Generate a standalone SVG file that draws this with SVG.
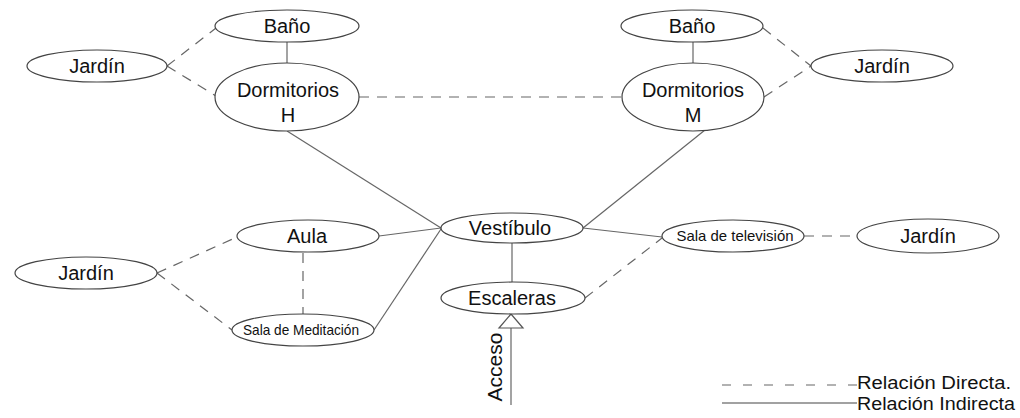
<svg xmlns="http://www.w3.org/2000/svg" width="1020" height="418" viewBox="0 0 1020 418">
<style>
.n ellipse{fill:#fff;stroke:#444;stroke-width:1.2}
.n text{font-family:"Liberation Sans",Arial,sans-serif;font-size:20px;fill:#111;text-anchor:middle}
.n text.s{font-size:15px}
.c line{stroke:#666;stroke-width:1.2;fill:none}
.c line.d{stroke-dasharray:10 8}
.lg{font-family:"Liberation Sans",Arial,sans-serif;font-size:17.5px;fill:#111}
</style>
<rect width="1020" height="418" fill="#fff"/>
<g id="connectors" class="c">
<line x1="287" y1="42" x2="287" y2="63"/>
<line x1="693" y1="42" x2="693" y2="63"/>
<line x1="287" y1="131" x2="441" y2="228"/>
<line x1="705" y1="130" x2="583" y2="228"/>
<line x1="379" y1="236" x2="441" y2="228"/>
<line x1="374" y1="330" x2="441" y2="229"/>
<line x1="583" y1="228" x2="662" y2="237"/>
<line x1="512" y1="243" x2="512" y2="282"/>
<line class="d" x1="167" y1="66" x2="216" y2="28"/>
<line class="d" x1="167" y1="66" x2="216" y2="96"/>
<line class="d" x1="359" y1="97" x2="622" y2="97"/>
<line class="d" x1="763" y1="28" x2="811" y2="66"/>
<line class="d" x1="764" y1="97" x2="811" y2="66"/>
<line class="d" x1="157" y1="273" x2="237" y2="237"/>
<line class="d" x1="157" y1="273" x2="232" y2="330"/>
<line class="d" x1="303" y1="253" x2="303" y2="314"/>
<line class="d" x1="585" y1="298" x2="662" y2="238"/>
<line class="d" x1="804" y1="236" x2="857" y2="236"/>
</g>
<g id="acceso">
<line x1="511" y1="328" x2="511" y2="405" stroke="#666" stroke-width="1.2"/>
<polygon points="511,314 499,328 523,328" fill="#fff" stroke="#555" stroke-width="1.2"/>
<text transform="translate(502,367) rotate(-90)" x="0" y="0" text-anchor="middle" font-family="Liberation Sans, Arial, sans-serif" font-size="21" fill="#111">Acceso</text>
</g>
<g id="bano_h" class="n"><ellipse cx="287" cy="26" rx="72" ry="16"/><text x="287" y="33">Baño</text></g>
<g id="jardin_h" class="n"><ellipse cx="97" cy="66" rx="70" ry="16"/><text x="97" y="73">Jardín</text></g>
<g id="dorm_h" class="n"><ellipse cx="287" cy="97" rx="72" ry="34"/><text x="288" y="97">Dormitorios</text><text x="288" y="122">H</text></g>
<g id="bano_m" class="n"><ellipse cx="692" cy="26" rx="71" ry="16"/><text x="692" y="33">Baño</text></g>
<g id="jardin_m" class="n"><ellipse cx="882" cy="66" rx="71" ry="16"/><text x="882" y="73">Jardín</text></g>
<g id="dorm_m" class="n"><ellipse cx="693" cy="97" rx="71" ry="34"/><text x="693" y="97">Dormitorios</text><text x="693" y="122">M</text></g>
<g id="vestibulo" class="n"><ellipse cx="512" cy="228" rx="71" ry="15"/><text x="510" y="235">Vestíbulo</text></g>
<g id="escaleras" class="n"><ellipse cx="513" cy="298" rx="72" ry="16"/><text x="512" y="305">Escaleras</text></g>
<g id="aula" class="n"><ellipse cx="308" cy="236" rx="71" ry="16"/><text x="307" y="243">Aula</text></g>
<g id="jardin_a" class="n"><ellipse cx="86" cy="273" rx="71" ry="16"/><text x="86" y="280">Jardín</text></g>
<g id="meditacion" class="n"><ellipse cx="303" cy="330" rx="71" ry="16"/><text class="s" x="301" y="335" textLength="116" lengthAdjust="spacingAndGlyphs">Sala de Meditación</text></g>
<g id="sala_tv" class="n"><ellipse cx="733" cy="236" rx="71" ry="16"/><text class="s" x="735" y="241" textLength="117" lengthAdjust="spacingAndGlyphs">Sala de televisión</text></g>
<g id="jardin_tv" class="n"><ellipse cx="928" cy="236" rx="71" ry="17"/><text x="928" y="243">Jardín</text></g>
<g id="legend">
<line x1="722" y1="385" x2="857" y2="385" stroke="#666" stroke-width="1.2" stroke-dasharray="9 12"/>
<text class="lg" x="857" y="389" textLength="154" lengthAdjust="spacingAndGlyphs">Relación Directa.</text>
<line x1="722" y1="403" x2="857" y2="403" stroke="#444" stroke-width="1.2"/>
<text class="lg" x="857" y="410" textLength="158" lengthAdjust="spacingAndGlyphs">Relación Indirecta</text>
</g>
</svg>
